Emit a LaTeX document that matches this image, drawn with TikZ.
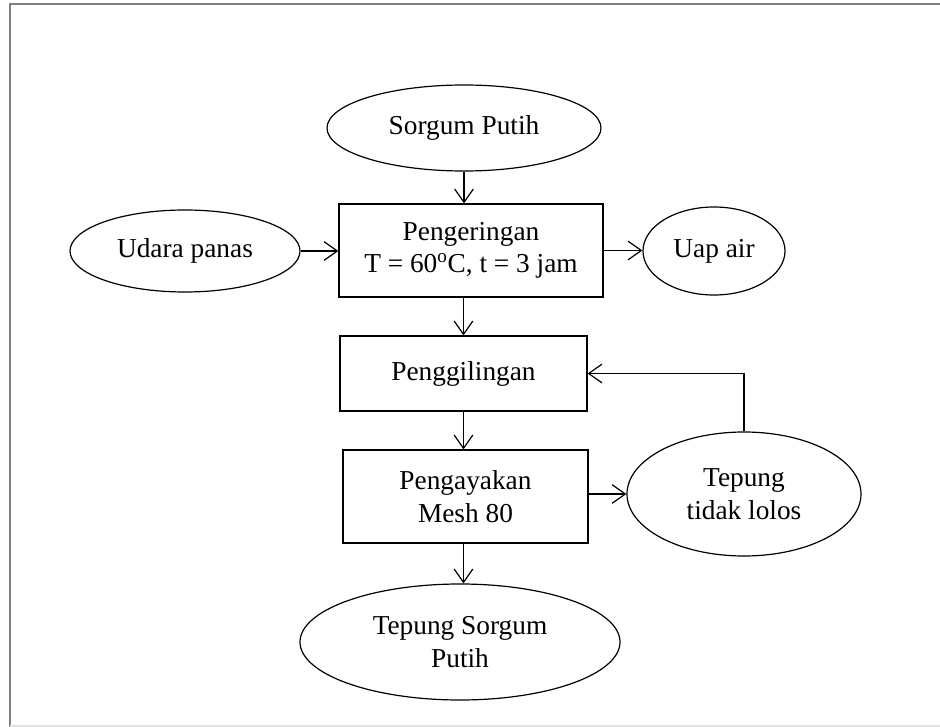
\documentclass[tikz,border=0pt]{standalone}
\usepackage{fontspec}
\setmainfont{Liberation Serif}
\usetikzlibrary{shapes.geometric,arrows.meta}

\tikzset{every picture/.style={line width=0.9pt}}
\tikzset{
  oval/.style={draw,ellipse,inner sep=0pt,align=center},
  procbox/.style={draw,rectangle,inner sep=0pt,align=center},
  flow/.style={-{Straight Barb[length=10pt,width=14pt]}}
}

\begin{document}
\begin{tikzpicture}[x=0.75pt,y=0.75pt,yscale=-1,xscale=1,font=\fontsize{20.5}{24.5}\selectfont]
\useasboundingbox (0,0) rectangle (940,727);

%Frame
\draw [color={rgb, 255:red, 128; green, 128; blue, 128 }, line width=1.5pt] (10,727) -- (10,4.5) -- (940,4.5) ;
\draw [color={rgb, 255:red, 225; green, 225; blue, 225 }, line width=1pt] (10,726) -- (940,726) ;

% Nodes
\node [oval, minimum width=205.5pt, minimum height=64.5pt] (sorgum) at (464,128) {Sorgum Putih};
\node [oval, minimum width=172.5pt, minimum height=61.5pt] (udara) at (185,251) {Udara panas};
\node [procbox, minimum width=198pt, minimum height=69.75pt] (kering) at (471,250.5) {Pengeringan\\T = 60\textsuperscript{o}C, t = 3 jam};
\node [oval, minimum width=106.5pt, minimum height=66pt] (uap) at (714,251) {Uap air};
\node [procbox, minimum width=185.25pt, minimum height=56.25pt] (giling) at (463.5,373.5) {Penggilingan};
\node [procbox, minimum width=183.75pt, minimum height=69.75pt] (ayak) at (465.5,496.5) {Pengayakan\\Mesh 80};
\node [oval, minimum width=175.5pt, minimum height=93pt] (tdklolos) at (744,494) {Tepung\\tidak lolos};
\node [oval, minimum width=240pt, minimum height=87pt] (tepung) at (460,642) {Tepung Sorgum\\Putih};

% Connectors
\draw [flow] (sorgum.south) -- (sorgum.south |- kering.north) ;
\draw [flow] (udara.east) -- (udara.east -| kering.west) ;
\draw [flow] (kering.east) -- (kering.east -| uap.west) ;
\draw [flow] (giling.north |- kering.south) -- (giling.north) ;
\draw [flow] (giling.south) -- (giling.south |- ayak.north) ;
\draw [flow] (ayak.east |- tdklolos.west) -- (tdklolos.west) ;
\draw [flow] (giling.south |- ayak.south) -- (giling.south |- tepung.north) ;
\draw [flow] (tdklolos.north) |- (giling.east) ;
\end{tikzpicture}
\end{document}
